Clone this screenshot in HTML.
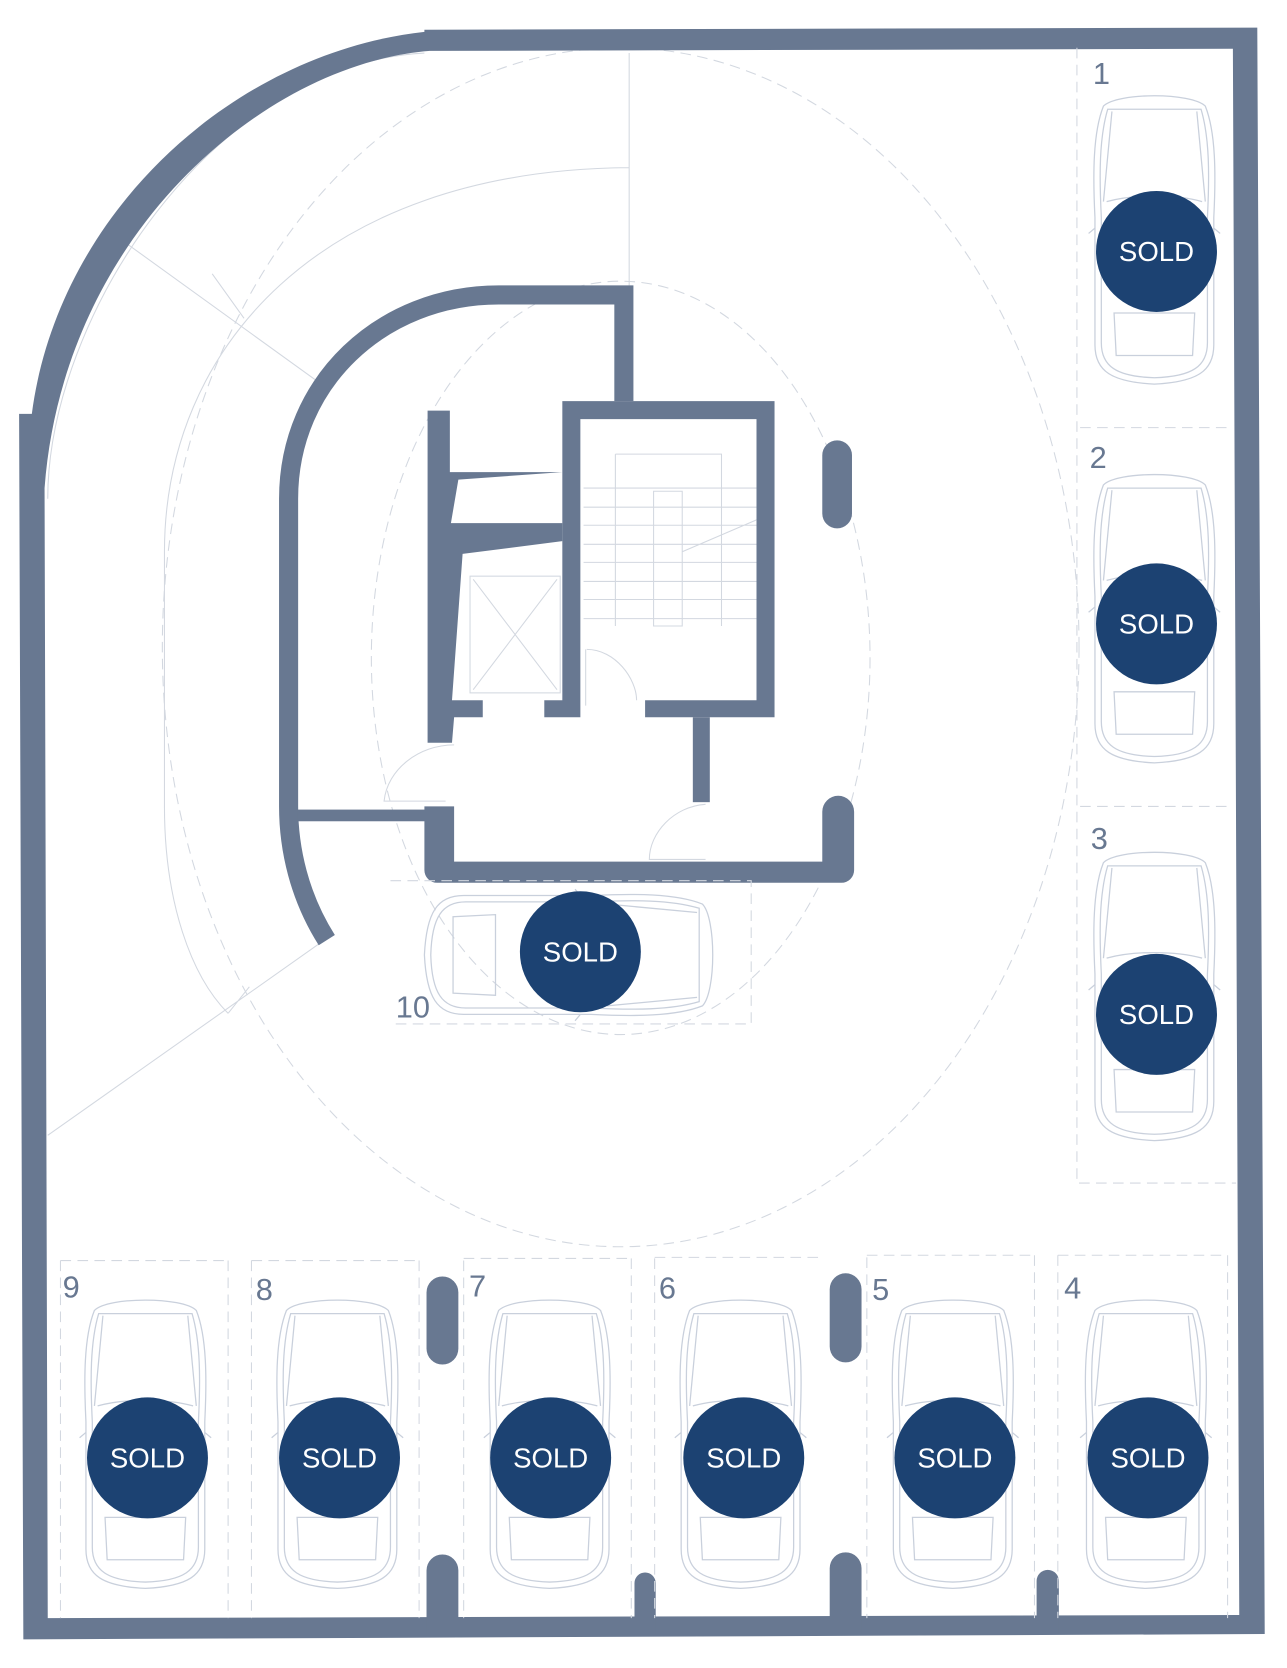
<!DOCTYPE html>
<html><head><meta charset="utf-8"><style>
html,body{margin:0;padding:0;background:#fff;}
svg{display:block;}
.w{fill:#687891;}
.g{fill:none;stroke:#d3d8e0;stroke-width:1;}
.d{fill:none;stroke:#d3d8e0;stroke-width:1;stroke-dasharray:10 6;}
.car{fill:none;stroke:#c9d0dc;stroke-width:1.2;}
.num{font-family:"Liberation Sans",sans-serif;font-size:29px;fill:#687891;}
.sold{font-family:"Liberation Sans",sans-serif;font-size:26px;fill:#fff;text-anchor:middle;}
</style></head><body>
<svg width="1287" height="1668" viewBox="0 0 1213 1572" preserveAspectRatio="none">
<defs>
<g id="carV">
 <path class="car" d="M-48,-125 C-58,-100 -58,-60 -56,-20 L-56,100 C-56,125 -40,135 0,137 C40,135 56,125 56,100 L56,-20 C58,-60 58,-100 48,-125 C35,-138 -35,-138 -48,-125Z"/>
 <path class="car" d="M-44,-122 C-52,-95 -52,-60 -50,-20 L-50,98 C-50,120 -36,130 0,131 C36,130 50,120 50,98 L50,-20 C52,-60 52,-95 44,-122Z"/>
 <path class="car" d="M-45,-35 C-20,-42 20,-42 45,-35 M-40,-120 L-48,-35 M40,-120 L48,-35 M-38,70 L38,70 L36,110 L-36,110Z M-56,-10 L-62,-5 M56,-10 L62,-5"/>
</g>
</defs>
<!-- guide lines -->
<ellipse class="d" cx="585" cy="610" rx="432" ry="565"/>
<ellipse class="d" cx="585" cy="620" rx="235" ry="355"/>
<path class="g" d="M593,50 L593,280 M155,520 C155,330 300,160 593,158 M155,520 L155,760 C155,850 180,920 215,955 M120,230 L300,360 M45,1070 L300,890 M200,258 L230,300 M215,955 L235,930"/>
<path class="g" d="M45,470 C45,300 200,60 400,50"/>
<!-- outer wall -->
<path class="w" d="M400,28 L1185,26 L1192,1540 L22,1545 L18,390 L30,390 C55,200 220,50 400,30Z M405,48 C250,60 60,220 42,460 L45,1525 L1168,1522 L1162,46Z" fill-rule="evenodd"/>
<!-- core curved wall -->
<path d="M308,886 C282,845 272,800 272,760 L272,470 C272,360 360,278 470,278 L588,278 L588,378" fill="none" stroke="#687891" stroke-width="18"/>
<rect class="w" x="280" y="763" width="145" height="11"/>
<!-- stair box -->
<path class="w" d="M530,378 L730,378 L730,676 L608,676 L608,660 L713,660 L713,395 L547,395 L547,676 L513,676 L513,660 L530,660Z"/>
<!-- lift left wall + wedges -->
<path class="w" d="M403,387 L424,387 L424,445 L530,445 L432,452 L425,493 L530,493 L530,510 L436,522 L426,660 L455,660 L455,676 L428,676 L426,700 L403,700Z"/>
<rect class="g" x="443" y="543" width="85" height="110"/>
<path class="g" d="M446,546 L525,650 M525,546 L446,650 M580,428 L680,428 L680,590 M550,460 L713,460 M550,478 L713,478 M550,495 L713,495 M550,513 L713,513 M550,530 L713,530 M550,548 L713,548 M550,565 L713,565 M550,583 L713,583 M616,463 L643,463 L643,590 L616,590Z M643,520 L713,490 M580,428 L580,590"/>
<rect class="w" x="653" y="676" width="16" height="80"/>
<!-- doors -->
<path class="g" d="M553,612 C580,612 600,640 600,660 M552,612 L552,665 M428,702 C395,702 365,725 362,755 L420,755 M665,758 C635,760 612,785 612,810 L665,810"/>
<!-- core bottom -->
<path class="w" d="M400,760 L428,760 L428,812 L775,812 L775,765 A15,15 0 0 1 805,765 L805,820 A12,12 0 0 1 793,832 L412,832 A12,12 0 0 1 400,820Z"/>
<rect class="w" x="775" y="415" width="28" height="83" rx="14"/>
<!-- bottom pills & stubs -->
<rect class="w" x="402" y="1203" width="30" height="83" rx="15"/>
<rect class="w" x="782" y="1200" width="30" height="84" rx="15"/>
<path class="w" d="M402,1540 L402,1480 A15,15 0 0 1 432,1480 L432,1540Z M598,1540 L598,1492 A10,10 0 0 1 618,1492 L618,1540Z M782,1540 L782,1478 A15,15 0 0 1 812,1478 L812,1540Z M977,1540 L977,1490 A10,10 0 0 1 998,1490 L998,1540Z"/>
<!-- stall lines -->
<path class="d" d="M1015,45 L1015,1115 L1165,1115 M1018,403 L1162,403 M1018,760 L1162,760 M57,1188 L57,1525 M57,1188 L215,1188 M237,1188 L237,1525 M237,1188 L395,1188 M215,1188 L215,1525 M437,1188 L437,1525 M437,1186 L595,1186 M617,1186 L617,1525 M617,1185 L775,1185 M817,1185 L817,1525 M817,1183 L975,1183 M997,1183 L997,1525 M997,1183 L1157,1183 M1157,1183 L1157,1525 M395,1188 L395,1525 M595,1186 L595,1525 M975,1183 L975,1525 M368,830 L708,830 L708,965 L368,965"/>
<!-- cars -->
<use href="#carV" x="1088" y="225"/>
<use href="#carV" x="1088" y="582"/>
<use href="#carV" x="1088" y="938"/>
<use href="#carV" x="137" y="1360"/>
<use href="#carV" x="318" y="1360"/>
<use href="#carV" x="518" y="1360"/>
<use href="#carV" x="698" y="1360"/>
<use href="#carV" x="898" y="1360"/>
<use href="#carV" x="1080" y="1360"/>
<use href="#carV" transform="translate(537,900) rotate(90)"/>
<!-- numbers -->
<text class="num" x="1030" y="79">1</text>
<text class="num" x="1027" y="441">2</text>
<text class="num" x="1028" y="800">3</text>
<text class="num" x="1003" y="1224">4</text>
<text class="num" x="822" y="1225">5</text>
<text class="num" x="621" y="1224">6</text>
<text class="num" x="442" y="1222">7</text>
<text class="num" x="241" y="1225">8</text>
<text class="num" x="59" y="1223">9</text>
<text class="num" x="373" y="959">10</text>
<!-- sold -->
<g fill="#1c4272">
<circle cx="1090" cy="237" r="57"/><circle cx="1090" cy="588" r="57"/><circle cx="1090" cy="956" r="57"/>
<circle cx="547" cy="897" r="57"/>
<circle cx="139" cy="1374" r="57"/><circle cx="320" cy="1374" r="57"/><circle cx="519" cy="1374" r="57"/>
<circle cx="701" cy="1374" r="57"/><circle cx="900" cy="1374" r="57"/><circle cx="1082" cy="1374" r="57"/>
</g>
<g class="sold">
<text x="1090" y="246">SOLD</text><text x="1090" y="597">SOLD</text><text x="1090" y="965">SOLD</text>
<text x="547" y="906">SOLD</text>
<text x="139" y="1383">SOLD</text><text x="320" y="1383">SOLD</text><text x="519" y="1383">SOLD</text>
<text x="701" y="1383">SOLD</text><text x="900" y="1383">SOLD</text><text x="1082" y="1383">SOLD</text>
</g>
</svg>
</body></html>
